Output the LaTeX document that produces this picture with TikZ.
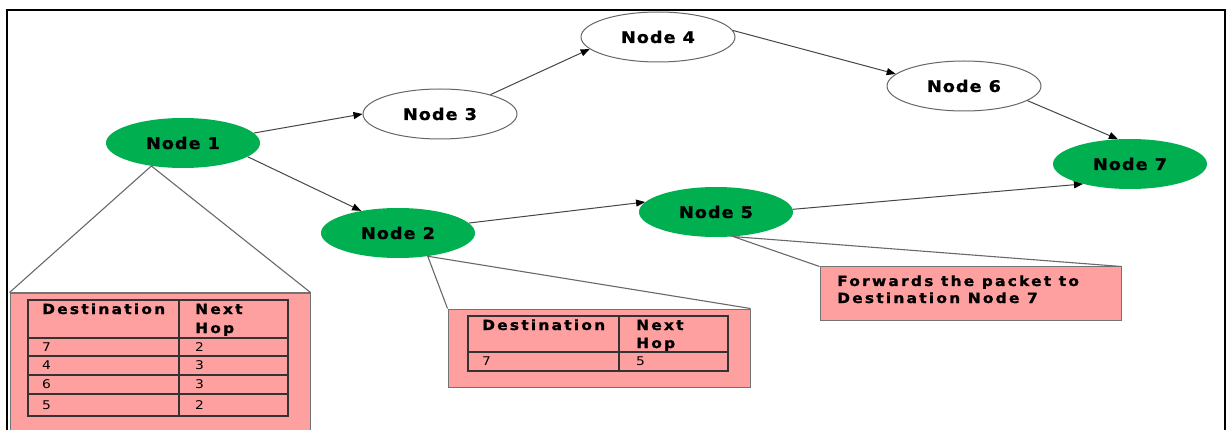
\documentclass[tikz,border=0pt]{standalone}
\usepackage{fontspec}
\usetikzlibrary{shapes.geometric,arrows.meta}

% Fonts: heavy, tracked labels
\newfontfamily\nodefont{DejaVu Sans}[FakeStretch=1.1,LetterSpace=6.5,BoldFeatures={FakeBold=1.2}]
\newfontfamily\headfont{DejaVu Sans}[FakeStretch=1.1,LetterSpace=16,BoldFeatures={FakeBold=1.2}]
\newfontfamily\notefont{DejaVu Sans}[FakeStretch=1.1,LetterSpace=16,BoldFeatures={FakeBold=1.2}]
\newfontfamily\cellfont{DejaVu Sans}[FakeStretch=1.15]

\definecolor{nodegreen}{RGB}{0,176,80}
\definecolor{notepink}{RGB}{255,160,160}
\definecolor{edgegray}{RGB}{70,70,70}
\definecolor{calloutgray}{RGB}{105,105,105}

\tikzset{
  router/.style={ellipse, minimum width=154pt, minimum height=50pt, inner sep=0pt,
    font=\nodefont\bfseries\fontsize{16}{19}\selectfont},
  greennode/.style={router, fill=nodegreen, draw=none},
  whitenode/.style={router, fill=white, draw=black!60, line width=1pt},
  link/.style={draw=edgegray, line width=1pt, -{Triangle[length=9pt,width=7pt,black]}},
  callout/.style={draw=calloutgray, line width=1.1pt},
  notebox/.style={rectangle, fill=notepink, draw=black!55, line width=1pt, inner sep=0pt},
  gridline/.style={draw=black!80, line width=1.2pt},
  head/.style={font=\headfont\bfseries\fontsize{14}{16}\selectfont, inner sep=0pt, anchor=base west},
  cell/.style={font=\cellfont\fontsize{12}{14}\selectfont, inner sep=0pt, anchor=west},
  note/.style={font=\notefont\bfseries\fontsize{14}{16}\selectfont, inner sep=0pt, anchor=base west},
}

\begin{document}
\begin{tikzpicture}[x=1pt,y=-1pt]
\useasboundingbox (0,0) rectangle (1231,430);
\clip (0,0) rectangle (1231,430);
\fill[white] (0,0) rectangle (1231,430);

% routers
\node[greennode] (n1) at (183,143) {Node 1};
\node[greennode] (n2) at (398,233) {Node 2};
\node[whitenode] (n3) at (440,114) {Node 3};
\node[whitenode] (n4) at (658,37)  {Node 4};
\node[greennode] (n5) at (716,212) {Node 5};
\node[whitenode] (n6) at (964,86)  {Node 6};
\node[greennode] (n7) at (1130,164) {Node 7};

% links
\draw[link] (n1.8)   -- (n3.180);
\draw[link] (n3.21)  -- (n4.190);
\draw[link] (n4.5)   -- (n6.170);
\draw[link] (n6.347) -- (n7.116);
\draw[link] (n1.348) -- (n2.149);
\draw[link] (n2.8)   -- (n5.172);
\draw[link] (n5.2)   -- (n7.203);

% note boxes
\node[notebox, minimum width=300pt, minimum height=147pt] (box1) at (160,366.5) {};
\node[notebox, minimum width=302pt, minimum height=78pt]  (box2) at (599,348) {};
\node[notebox, minimum width=301pt, minimum height=53pt]  (box3) at (970.5,293.5) {};

% callout lines
\draw[callout] (box1.north west) -- (n1.216) -- (box1.north east);
\draw[callout] (box2.north west) -- (n2.322) -- (box2.north east);
\draw[callout] (box3.north west) -- (n5.305) -- (box3.north east);

% routing table of Node 1
\draw[gridline] (28,300) rectangle (288,416);
\draw[gridline] (179,300) -- (179,416);
\foreach \yy in {338,356,375,394} \draw[gridline] (28,\yy) -- (288,\yy);
\node[head] (t1d) at (42,314) {Destination};
\node[head] (t1n) at (195,314) {Next};
\node[head] (t1h) at (195,333) {Hop};
\node[cell] (t1a) at (42,347) {7};   \node[cell] (t1b) at (195,347) {2};
\node[cell] (t1c) at (42,365.5) {4}; \node[cell] (t1e) at (195,365.5) {3};
\node[cell] (t1f) at (42,384.5) {6}; \node[cell] (t1g) at (195,384.5) {3};
\node[cell] (t1i) at (42,405) {5};   \node[cell] (t1j) at (195,405) {2};

% routing table of Node 2
\draw[gridline] (468,316) rectangle (728,371);
\draw[gridline] (619,316) -- (619,371);
\draw[gridline] (468,352) -- (728,352);
\node[head] (t2d) at (482,330) {Destination};
\node[head] (t2n) at (636,330) {Next};
\node[head] (t2h) at (636,348) {Hop};
\node[cell] (t2a) at (482,361.5) {7};
\node[cell] (t2b) at (636,361.5) {5};

% forwarding note of Node 5
\node[note] (f1) at (837,286) {Forwards the packet to};
\node[note] (f2) at (837,303) {Destination Node 7};

% outer frame
\draw[line width=2pt] (7,440) -- (7,10) -- (1225,10) -- (1225,440);
\end{tikzpicture}
\end{document}
